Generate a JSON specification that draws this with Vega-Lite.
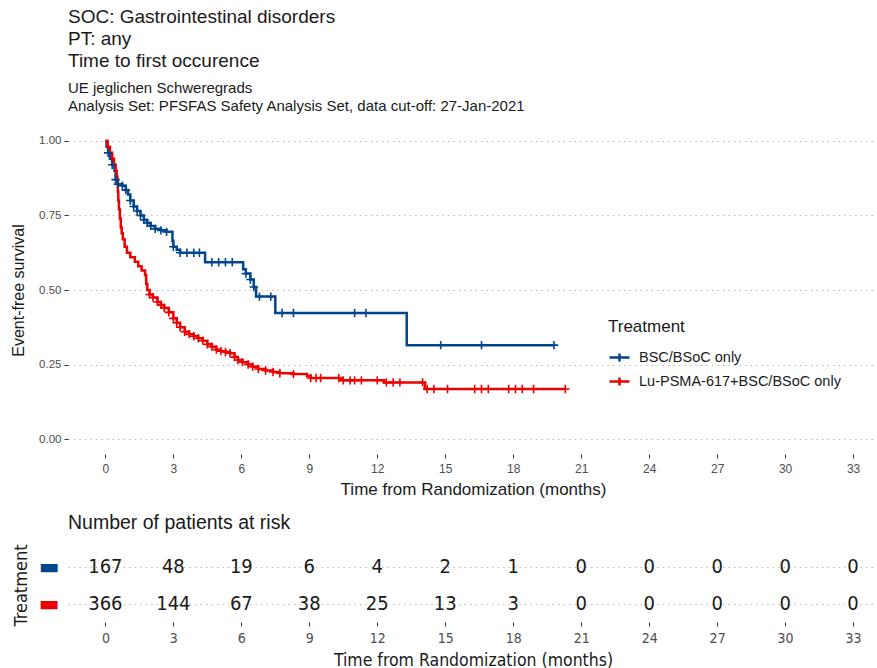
{
  "$schema": "https://vega.github.io/schema/vega-lite/v6.json",
  "padding": {"left": 10, "top": 8, "right": 0, "bottom": 0},
  "background": "white",
  "config": {
    "view": {"stroke": null},
    "font": "Liberation Sans",
    "axis": {"domain": false, "tickColor": "#333333", "tickSize": 4, "labelColor": "#4d4d4d", "titleColor": "#1a1a1a", "titleFontWeight": "normal", "gridColor": "#bdbdbd", "gridDash": [1.5, 4], "gridWidth": 1.2},
    "title": {"anchor": "start", "frame": "group", "fontWeight": "normal", "color": "#1a1a1a", "subtitleColor": "#1a1a1a"}
  },
  "datasets": {
    "km": [
      {"group": "BSC/BSoC only", "t": 0, "s": 1.0, "c": 0},
      {"group": "BSC/BSoC only", "t": 0.05, "s": 0.98, "c": 0},
      {"group": "BSC/BSoC only", "t": 0.12, "s": 0.96, "c": 1},
      {"group": "BSC/BSoC only", "t": 0.2, "s": 0.94, "c": 0},
      {"group": "BSC/BSoC only", "t": 0.3, "s": 0.92, "c": 1},
      {"group": "BSC/BSoC only", "t": 0.4, "s": 0.9, "c": 0},
      {"group": "BSC/BSoC only", "t": 0.45, "s": 0.87, "c": 1},
      {"group": "BSC/BSoC only", "t": 0.55, "s": 0.855, "c": 1},
      {"group": "BSC/BSoC only", "t": 0.75, "s": 0.85, "c": 1},
      {"group": "BSC/BSoC only", "t": 0.9, "s": 0.835, "c": 1},
      {"group": "BSC/BSoC only", "t": 1.0, "s": 0.82, "c": 0},
      {"group": "BSC/BSoC only", "t": 1.1, "s": 0.8, "c": 1},
      {"group": "BSC/BSoC only", "t": 1.25, "s": 0.78, "c": 1},
      {"group": "BSC/BSoC only", "t": 1.4, "s": 0.765, "c": 1},
      {"group": "BSC/BSoC only", "t": 1.55, "s": 0.75, "c": 1},
      {"group": "BSC/BSoC only", "t": 1.7, "s": 0.735, "c": 1},
      {"group": "BSC/BSoC only", "t": 1.85, "s": 0.725, "c": 1},
      {"group": "BSC/BSoC only", "t": 2.0, "s": 0.715, "c": 1},
      {"group": "BSC/BSoC only", "t": 2.2, "s": 0.705, "c": 1},
      {"group": "BSC/BSoC only", "t": 2.45, "s": 0.7, "c": 1},
      {"group": "BSC/BSoC only", "t": 2.7, "s": 0.695, "c": 1},
      {"group": "BSC/BSoC only", "t": 2.96, "s": 0.665, "c": 0},
      {"group": "BSC/BSoC only", "t": 3.0, "s": 0.645, "c": 1},
      {"group": "BSC/BSoC only", "t": 3.15, "s": 0.635, "c": 0},
      {"group": "BSC/BSoC only", "t": 3.3, "s": 0.625, "c": 1},
      {"group": "BSC/BSoC only", "t": 3.6, "s": 0.625, "c": 1},
      {"group": "BSC/BSoC only", "t": 3.9, "s": 0.625, "c": 1},
      {"group": "BSC/BSoC only", "t": 4.15, "s": 0.625, "c": 1},
      {"group": "BSC/BSoC only", "t": 4.4, "s": 0.593, "c": 0},
      {"group": "BSC/BSoC only", "t": 4.7, "s": 0.593, "c": 1},
      {"group": "BSC/BSoC only", "t": 5.0, "s": 0.593, "c": 1},
      {"group": "BSC/BSoC only", "t": 5.3, "s": 0.593, "c": 1},
      {"group": "BSC/BSoC only", "t": 5.6, "s": 0.593, "c": 1},
      {"group": "BSC/BSoC only", "t": 6.08, "s": 0.57, "c": 0},
      {"group": "BSC/BSoC only", "t": 6.2, "s": 0.555, "c": 1},
      {"group": "BSC/BSoC only", "t": 6.4, "s": 0.535, "c": 1},
      {"group": "BSC/BSoC only", "t": 6.55, "s": 0.51, "c": 1},
      {"group": "BSC/BSoC only", "t": 6.65, "s": 0.478, "c": 0},
      {"group": "BSC/BSoC only", "t": 6.8, "s": 0.478, "c": 1},
      {"group": "BSC/BSoC only", "t": 7.3, "s": 0.478, "c": 1},
      {"group": "BSC/BSoC only", "t": 7.5, "s": 0.423, "c": 0},
      {"group": "BSC/BSoC only", "t": 7.8, "s": 0.423, "c": 1},
      {"group": "BSC/BSoC only", "t": 8.3, "s": 0.423, "c": 1},
      {"group": "BSC/BSoC only", "t": 11.0, "s": 0.423, "c": 1},
      {"group": "BSC/BSoC only", "t": 11.5, "s": 0.423, "c": 1},
      {"group": "BSC/BSoC only", "t": 13.3, "s": 0.315, "c": 0},
      {"group": "BSC/BSoC only", "t": 14.8, "s": 0.315, "c": 1},
      {"group": "BSC/BSoC only", "t": 16.6, "s": 0.315, "c": 1},
      {"group": "BSC/BSoC only", "t": 19.8, "s": 0.315, "c": 1},
      {"group": "Lu-PSMA-617+BSC/BSoC only", "t": 0, "s": 1.0, "c": 0},
      {"group": "Lu-PSMA-617+BSC/BSoC only", "t": 0.1, "s": 0.98, "c": 0},
      {"group": "Lu-PSMA-617+BSC/BSoC only", "t": 0.2, "s": 0.96, "c": 0},
      {"group": "Lu-PSMA-617+BSC/BSoC only", "t": 0.3, "s": 0.94, "c": 0},
      {"group": "Lu-PSMA-617+BSC/BSoC only", "t": 0.38, "s": 0.92, "c": 0},
      {"group": "Lu-PSMA-617+BSC/BSoC only", "t": 0.45, "s": 0.9, "c": 0},
      {"group": "Lu-PSMA-617+BSC/BSoC only", "t": 0.5, "s": 0.88, "c": 0},
      {"group": "Lu-PSMA-617+BSC/BSoC only", "t": 0.53, "s": 0.86, "c": 0},
      {"group": "Lu-PSMA-617+BSC/BSoC only", "t": 0.55, "s": 0.83, "c": 0},
      {"group": "Lu-PSMA-617+BSC/BSoC only", "t": 0.57, "s": 0.8, "c": 0},
      {"group": "Lu-PSMA-617+BSC/BSoC only", "t": 0.6, "s": 0.77, "c": 0},
      {"group": "Lu-PSMA-617+BSC/BSoC only", "t": 0.64, "s": 0.74, "c": 0},
      {"group": "Lu-PSMA-617+BSC/BSoC only", "t": 0.68, "s": 0.71, "c": 0},
      {"group": "Lu-PSMA-617+BSC/BSoC only", "t": 0.72, "s": 0.69, "c": 0},
      {"group": "Lu-PSMA-617+BSC/BSoC only", "t": 0.77, "s": 0.67, "c": 0},
      {"group": "Lu-PSMA-617+BSC/BSoC only", "t": 0.85, "s": 0.645, "c": 0},
      {"group": "Lu-PSMA-617+BSC/BSoC only", "t": 0.95, "s": 0.625, "c": 0},
      {"group": "Lu-PSMA-617+BSC/BSoC only", "t": 1.1, "s": 0.61, "c": 0},
      {"group": "Lu-PSMA-617+BSC/BSoC only", "t": 1.3, "s": 0.595, "c": 0},
      {"group": "Lu-PSMA-617+BSC/BSoC only", "t": 1.45, "s": 0.58, "c": 0},
      {"group": "Lu-PSMA-617+BSC/BSoC only", "t": 1.6, "s": 0.565, "c": 0},
      {"group": "Lu-PSMA-617+BSC/BSoC only", "t": 1.75, "s": 0.55, "c": 0},
      {"group": "Lu-PSMA-617+BSC/BSoC only", "t": 1.8, "s": 0.52, "c": 0},
      {"group": "Lu-PSMA-617+BSC/BSoC only", "t": 1.85, "s": 0.5, "c": 0},
      {"group": "Lu-PSMA-617+BSC/BSoC only", "t": 1.95, "s": 0.485, "c": 1},
      {"group": "Lu-PSMA-617+BSC/BSoC only", "t": 2.1, "s": 0.475, "c": 1},
      {"group": "Lu-PSMA-617+BSC/BSoC only", "t": 2.3, "s": 0.46, "c": 1},
      {"group": "Lu-PSMA-617+BSC/BSoC only", "t": 2.45, "s": 0.45, "c": 1},
      {"group": "Lu-PSMA-617+BSC/BSoC only", "t": 2.6, "s": 0.44, "c": 1},
      {"group": "Lu-PSMA-617+BSC/BSoC only", "t": 2.8, "s": 0.425, "c": 1},
      {"group": "Lu-PSMA-617+BSC/BSoC only", "t": 3.0, "s": 0.405, "c": 1},
      {"group": "Lu-PSMA-617+BSC/BSoC only", "t": 3.15, "s": 0.39, "c": 1},
      {"group": "Lu-PSMA-617+BSC/BSoC only", "t": 3.3, "s": 0.375, "c": 1},
      {"group": "Lu-PSMA-617+BSC/BSoC only", "t": 3.5, "s": 0.36, "c": 1},
      {"group": "Lu-PSMA-617+BSC/BSoC only", "t": 3.7, "s": 0.352, "c": 1},
      {"group": "Lu-PSMA-617+BSC/BSoC only", "t": 3.9, "s": 0.345, "c": 1},
      {"group": "Lu-PSMA-617+BSC/BSoC only", "t": 4.1, "s": 0.338, "c": 1},
      {"group": "Lu-PSMA-617+BSC/BSoC only", "t": 4.3, "s": 0.33, "c": 1},
      {"group": "Lu-PSMA-617+BSC/BSoC only", "t": 4.5, "s": 0.318, "c": 1},
      {"group": "Lu-PSMA-617+BSC/BSoC only", "t": 4.7, "s": 0.31, "c": 1},
      {"group": "Lu-PSMA-617+BSC/BSoC only", "t": 4.9, "s": 0.3, "c": 1},
      {"group": "Lu-PSMA-617+BSC/BSoC only", "t": 5.1, "s": 0.295, "c": 1},
      {"group": "Lu-PSMA-617+BSC/BSoC only", "t": 5.3, "s": 0.292, "c": 1},
      {"group": "Lu-PSMA-617+BSC/BSoC only", "t": 5.5, "s": 0.288, "c": 1},
      {"group": "Lu-PSMA-617+BSC/BSoC only", "t": 5.7, "s": 0.275, "c": 1},
      {"group": "Lu-PSMA-617+BSC/BSoC only", "t": 5.85, "s": 0.265, "c": 1},
      {"group": "Lu-PSMA-617+BSC/BSoC only", "t": 6.05, "s": 0.258, "c": 1},
      {"group": "Lu-PSMA-617+BSC/BSoC only", "t": 6.3, "s": 0.25, "c": 1},
      {"group": "Lu-PSMA-617+BSC/BSoC only", "t": 6.5, "s": 0.243, "c": 1},
      {"group": "Lu-PSMA-617+BSC/BSoC only", "t": 6.75, "s": 0.235, "c": 1},
      {"group": "Lu-PSMA-617+BSC/BSoC only", "t": 7.07, "s": 0.23, "c": 1},
      {"group": "Lu-PSMA-617+BSC/BSoC only", "t": 7.4, "s": 0.225, "c": 1},
      {"group": "Lu-PSMA-617+BSC/BSoC only", "t": 7.7, "s": 0.221, "c": 1},
      {"group": "Lu-PSMA-617+BSC/BSoC only", "t": 8.3, "s": 0.218, "c": 1},
      {"group": "Lu-PSMA-617+BSC/BSoC only", "t": 8.9, "s": 0.212, "c": 0},
      {"group": "Lu-PSMA-617+BSC/BSoC only", "t": 9.06, "s": 0.205, "c": 1},
      {"group": "Lu-PSMA-617+BSC/BSoC only", "t": 9.3, "s": 0.205, "c": 1},
      {"group": "Lu-PSMA-617+BSC/BSoC only", "t": 9.5, "s": 0.205, "c": 1},
      {"group": "Lu-PSMA-617+BSC/BSoC only", "t": 10.3, "s": 0.205, "c": 1},
      {"group": "Lu-PSMA-617+BSC/BSoC only", "t": 10.4, "s": 0.197, "c": 0},
      {"group": "Lu-PSMA-617+BSC/BSoC only", "t": 10.5, "s": 0.197, "c": 1},
      {"group": "Lu-PSMA-617+BSC/BSoC only", "t": 10.8, "s": 0.197, "c": 1},
      {"group": "Lu-PSMA-617+BSC/BSoC only", "t": 11.0, "s": 0.197, "c": 1},
      {"group": "Lu-PSMA-617+BSC/BSoC only", "t": 11.3, "s": 0.197, "c": 1},
      {"group": "Lu-PSMA-617+BSC/BSoC only", "t": 12.0, "s": 0.197, "c": 1},
      {"group": "Lu-PSMA-617+BSC/BSoC only", "t": 12.3, "s": 0.19, "c": 0},
      {"group": "Lu-PSMA-617+BSC/BSoC only", "t": 12.4, "s": 0.19, "c": 1},
      {"group": "Lu-PSMA-617+BSC/BSoC only", "t": 12.7, "s": 0.19, "c": 1},
      {"group": "Lu-PSMA-617+BSC/BSoC only", "t": 13.0, "s": 0.19, "c": 1},
      {"group": "Lu-PSMA-617+BSC/BSoC only", "t": 14.0, "s": 0.19, "c": 1},
      {"group": "Lu-PSMA-617+BSC/BSoC only", "t": 14.1, "s": 0.168, "c": 0},
      {"group": "Lu-PSMA-617+BSC/BSoC only", "t": 14.2, "s": 0.168, "c": 1},
      {"group": "Lu-PSMA-617+BSC/BSoC only", "t": 14.5, "s": 0.168, "c": 1},
      {"group": "Lu-PSMA-617+BSC/BSoC only", "t": 15.1, "s": 0.168, "c": 1},
      {"group": "Lu-PSMA-617+BSC/BSoC only", "t": 16.3, "s": 0.168, "c": 1},
      {"group": "Lu-PSMA-617+BSC/BSoC only", "t": 16.6, "s": 0.168, "c": 1},
      {"group": "Lu-PSMA-617+BSC/BSoC only", "t": 16.9, "s": 0.168, "c": 1},
      {"group": "Lu-PSMA-617+BSC/BSoC only", "t": 17.8, "s": 0.168, "c": 1},
      {"group": "Lu-PSMA-617+BSC/BSoC only", "t": 18.1, "s": 0.168, "c": 1},
      {"group": "Lu-PSMA-617+BSC/BSoC only", "t": 18.4, "s": 0.168, "c": 1},
      {"group": "Lu-PSMA-617+BSC/BSoC only", "t": 18.9, "s": 0.168, "c": 1},
      {"group": "Lu-PSMA-617+BSC/BSoC only", "t": 20.3, "s": 0.168, "c": 1}
    ],
    "risk": [
      {"group": "BSC/BSoC only", "t": 0, "n": 167},
      {"group": "BSC/BSoC only", "t": 3, "n": 48},
      {"group": "BSC/BSoC only", "t": 6, "n": 19},
      {"group": "BSC/BSoC only", "t": 9, "n": 6},
      {"group": "BSC/BSoC only", "t": 12, "n": 4},
      {"group": "BSC/BSoC only", "t": 15, "n": 2},
      {"group": "BSC/BSoC only", "t": 18, "n": 1},
      {"group": "BSC/BSoC only", "t": 21, "n": 0},
      {"group": "BSC/BSoC only", "t": 24, "n": 0},
      {"group": "BSC/BSoC only", "t": 27, "n": 0},
      {"group": "BSC/BSoC only", "t": 30, "n": 0},
      {"group": "BSC/BSoC only", "t": 33, "n": 0},
      {"group": "Lu-PSMA-617+BSC/BSoC only", "t": 0, "n": 366},
      {"group": "Lu-PSMA-617+BSC/BSoC only", "t": 3, "n": 144},
      {"group": "Lu-PSMA-617+BSC/BSoC only", "t": 6, "n": 67},
      {"group": "Lu-PSMA-617+BSC/BSoC only", "t": 9, "n": 38},
      {"group": "Lu-PSMA-617+BSC/BSoC only", "t": 12, "n": 25},
      {"group": "Lu-PSMA-617+BSC/BSoC only", "t": 15, "n": 13},
      {"group": "Lu-PSMA-617+BSC/BSoC only", "t": 18, "n": 3},
      {"group": "Lu-PSMA-617+BSC/BSoC only", "t": 21, "n": 0},
      {"group": "Lu-PSMA-617+BSC/BSoC only", "t": 24, "n": 0},
      {"group": "Lu-PSMA-617+BSC/BSoC only", "t": 27, "n": 0},
      {"group": "Lu-PSMA-617+BSC/BSoC only", "t": 30, "n": 0},
      {"group": "Lu-PSMA-617+BSC/BSoC only", "t": 33, "n": 0}
    ]
  },
  "spacing": 16,
  "vconcat": [
    {
      "width": 810,
      "height": 328,
      "title": {
        "text": ["SOC: Gastrointestinal disorders", "PT: any", "Time to first occurence"],
        "subtitle": ["UE jeglichen Schweregrads", "Analysis Set: PFSFAS Safety Analysis Set, data cut-off: 27-Jan-2021"],
        "fontSize": 19,
        "lineHeight": 22,
        "subtitleFontSize": 15,
        "subtitleLineHeight": 18,
        "subtitlePadding": 10,
        "offset": 12
      },
      "data": {"name": "km"},
      "encoding": {
        "x": {
          "field": "t", "type": "quantitative",
          "scale": {"domain": [-1.65, 34.1], "nice": false, "zero": false},
          "axis": {"values": [0, 3, 6, 9, 12, 15, 18, 21, 24, 27, 30, 33], "grid": false, "title": "Time from Randomization (months)", "labelFontSize": 12, "labelPadding": 5, "titleFontSize": 17, "titlePadding": 7}
        },
        "y": {
          "field": "s", "type": "quantitative",
          "scale": {"domain": [-0.05, 1.05], "nice": false, "zero": false},
          "axis": {"values": [0, 0.25, 0.5, 0.75, 1], "format": ".2f", "grid": true, "title": "Event-free survival", "labelFontSize": 11.5, "labelPadding": 3, "titleFontSize": 16, "titlePadding": 12}
        },
        "color": {
          "field": "group", "type": "nominal",
          "scale": {"domain": ["BSC/BSoC only", "Lu-PSMA-617+BSC/BSoC only"], "range": ["#00468B", "#ED0000"]},
          "legend": {
            "title": "Treatment", "orient": "none", "legendX": 540, "legendY": 193,
            "titleFontSize": 17, "titleFontWeight": "normal", "titleColor": "#1a1a1a", "titlePadding": 10,
            "labelFontSize": 14.5, "labelColor": "#1a1a1a", "labelOffset": 8, "labelLimit": 400,
            "symbolType": "M-1,0H1M0,-0.4V0.4", "symbolSize": 400, "symbolStrokeWidth": 2.5, "rowPadding": 3
          }
        }
      },
      "layer": [
        {"mark": {"type": "line", "interpolate": "step-after", "strokeWidth": 2.5}},
        {"transform": [{"filter": "datum.c == 1"}], "mark": {"type": "point", "shape": "M-1,0H1M0,-1V1", "size": 70, "strokeWidth": 1.6, "filled": false, "opacity": 1}}
      ]
    },
    {
      "width": 810,
      "height": 74,
      "title": {"text": "Number of patients at risk", "fontSize": 19.5, "offset": 10},
      "data": {"name": "risk"},
      "mark": {"type": "text", "font": "DejaVu Sans Condensed", "fontSize": 20, "color": "#1a1a1a"},
      "encoding": {
        "x": {
          "field": "t", "type": "quantitative",
          "scale": {"domain": [-1.65, 34.1], "nice": false, "zero": false},
          "axis": {"values": [0, 3, 6, 9, 12, 15, 18, 21, 24, 27, 30, 33], "grid": false, "title": "Time from Randomization (months)", "labelFont": "DejaVu Sans Condensed", "labelFontSize": 14, "labelPadding": 5, "titleFont": "DejaVu Sans Condensed", "titleFontSize": 17.5, "titlePadding": 6}
        },
        "y": {
          "field": "group", "type": "nominal",
          "scale": {"type": "point", "padding": 0.5, "domain": ["BSC/BSoC only", "Lu-PSMA-617+BSC/BSoC only"]},
          "axis": {
            "title": "Treatment", "grid": true, "ticks": false,
            "labelExpr": "'▬'",
            "labelColor": {"condition": {"test": "datum.value == 'BSC/BSoC only'", "value": "#00468B"}, "value": "#ED0000"},
            "labelFont": "DejaVu Sans", "labelFontSize": 22, "labelPadding": 9,
            "titleFont": "DejaVu Sans Condensed", "titleFontSize": 18, "titlePadding": 8
          }
        },
        "text": {"field": "n", "type": "quantitative"}
      }
    }
  ]
}
